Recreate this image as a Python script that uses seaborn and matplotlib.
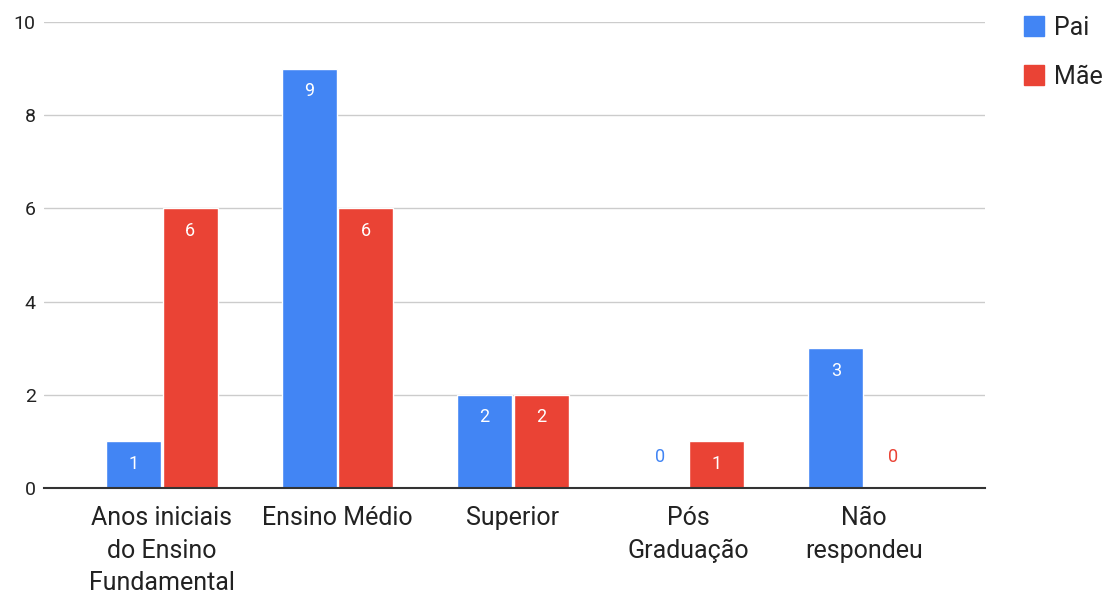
import pandas as pd
import seaborn as sns
import matplotlib.pyplot as plt
from matplotlib.lines import Line2D

# Datos
categorias = ["Anos iniciais\ndo Ensino\nFundamental", "Ensino Médio", "Superior",
              "Pós\nGraduação", "Não\nrespondeu"]
pai = [1, 9, 2, 0, 3]
mae = [6, 6, 2, 1, 0]
series = ["Pai", "Mãe"]
cores = {"Pai": "#4285F4", "Mãe": "#EA4335"}

df = pd.DataFrame({
    "categoria": categorias * 2,
    "valor": pai + mae,
    "serie": ["Pai"] * len(pai) + ["Mãe"] * len(mae),
})

sns.set_style("white")
plt.rcParams["font.family"] = ["Roboto", "DejaVu Sans"]

fig = plt.figure(figsize=(11.12, 5.93), dpi=100)
ax = fig.add_axes([0.0396, 0.177, 0.8466, 0.786])

sns.barplot(data=df, x="categoria", y="valor", hue="serie", hue_order=series,
            palette=cores, width=0.645, gap=0.03, ax=ax, legend=False,
            saturation=1, errorbar=None)

ax.set_ylim(0, 10)
ax.set_xlim(-0.67, 4.69)
ax.set_yticks([0, 2, 4, 6, 8, 10])
ax.yaxis.grid(True, color="#cccccc", linewidth=1)
ax.set_axisbelow(True)
for s in ["top", "right", "left"]:
    ax.spines[s].set_visible(False)
ax.spines["bottom"].set_color("#333333")
ax.spines["bottom"].set_linewidth(1.5)
ax.spines["bottom"].set_zorder(5)
ax.set_xlabel("")
ax.set_ylabel("")
ax.tick_params(axis="y", length=0, labelsize=14, labelcolor="#222222", pad=6)
ax.tick_params(axis="x", length=0, labelsize=18, labelcolor="#222222", pad=13)
for lbl in ax.get_xticklabels():
    lbl.set_linespacing(1.45)

# Etiquetas de valores
for cont, s in zip(ax.containers, series):
    for bar in cont:
        h = bar.get_height()
        xc = bar.get_x() + bar.get_width() / 2
        if h > 0:
            ax.text(xc, h - 0.48, f"{int(h)}", ha="center", va="center",
                    color="white", fontsize=13)
        else:
            ax.text(xc, 0.66, f"{int(h)}", ha="center", va="center",
                    color=cores[s], fontsize=13)

# Leyenda
handles = [Line2D([], [], marker="s", linestyle="", markersize=14,
                  markerfacecolor=cores[s], markeredgecolor=cores[s]) for s in series]
fig.legend(handles, series, loc="upper left", bbox_to_anchor=(0.898, 1.011),
           frameon=False, fontsize=18, handletextpad=0.3, labelspacing=1.0,
           handlelength=1.0, labelcolor="#222222")

fig.savefig("out.png", dpi=100)
